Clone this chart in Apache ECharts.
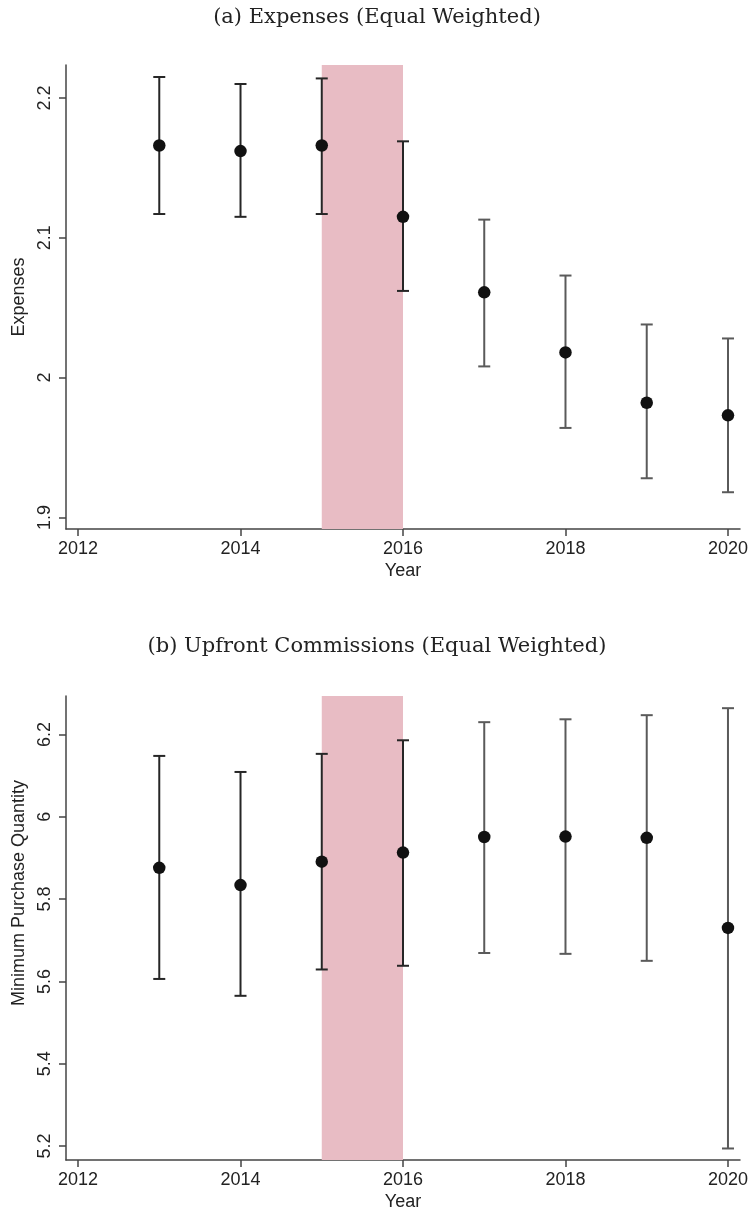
<!DOCTYPE html>
<html>
<head>
<meta charset="utf-8">
<script src="https://cdn.jsdelivr.net/npm/echarts@6/dist/echarts.min.js"></script>
<style>
html,body{margin:0;padding:0;background:#fff;}
#c{width:754px;height:1213px;}
</style>
</head>
<body>
<div id="c"></div>
<script>
// ---- data ----
const years = [2013, 2014, 2015, 2016, 2017, 2018, 2019, 2020];

const expPoint = [2.166, 2.162, 2.166, 2.115, 2.061, 2.018, 1.982, 1.973];
const expUpper = [2.215, 2.210, 2.214, 2.169, 2.113, 2.073, 2.038, 2.028];
const expLower = [2.117, 2.115, 2.117, 2.062, 2.008, 1.964, 1.928, 1.918];

const mpqPoint = [5.876, 5.834, 5.891, 5.913, 5.951, 5.952, 5.949, 5.730];
const mpqUpper = [6.148, 6.109, 6.153, 6.186, 6.230, 6.237, 6.247, 6.264];
const mpqLower = [5.606, 5.565, 5.629, 5.638, 5.669, 5.667, 5.650, 5.194];

const xTicks = [2012, 2014, 2016, 2018, 2020];
const expTicks = [1.9, 2.0, 2.1, 2.2];
const mpqTicks = [5.2, 5.4, 5.6, 5.8, 6.0, 6.2];
const shadeRange = [2015, 2016];

const titles = ['(a) Expenses (Equal Weighted)', '(b) Upfront Commissions (Equal Weighted)'];
const yNames = ['Expenses', 'Minimum Purchase Quantity'];
const xName = 'Year';

// ---- chart ----
const chart = echarts.init(document.getElementById('c'), null, {renderer: 'canvas'});

const sansFont = 'Liberation Sans';
const axisColor = '#444';
const labelColor = '#222';

function xAxisDef(gridIndex) {
  return {
    type: 'value', gridIndex: gridIndex,
    min: 2011.852, max: 2020.148,
    name: xName, nameLocation: 'middle', nameGap: 33,
    nameTextStyle: {fontFamily: sansFont, fontSize: 18, color: labelColor},
    axisLine: {show: true, lineStyle: {color: axisColor, width: 1.5}},
    axisTick: {show: true, length: 7, lineStyle: {color: axisColor, width: 1.5}, customValues: xTicks},
    axisLabel: {margin: 11, fontFamily: sansFont, fontSize: 18, color: labelColor,
      customValues: xTicks, formatter: v => String(v)},
    splitLine: {show: false}
  };
}
function yAxisDef(gridIndex, min, max, ticks, name, namePad) {
  return {
    type: 'value', gridIndex: gridIndex,
    min: min, max: max,
    name: name, nameLocation: 'middle', nameGap: 38, nameRotate: 90,
    nameTextStyle: {fontFamily: sansFont, fontSize: 18, color: labelColor, padding: namePad},
    axisLine: {show: true, lineStyle: {color: axisColor, width: 1.5}},
    axisTick: {show: true, length: 7, lineStyle: {color: axisColor, width: 1.5}, customValues: ticks},
    axisLabel: {margin: 12, rotate: 90, fontFamily: sansFont, fontSize: 18, color: labelColor,
      customValues: ticks, formatter: v => String(+Number(v).toFixed(1))},
    splitLine: {show: false}
  };
}

function errRender(params, api) {
  const x = api.value(0), lo = api.value(1), hi = api.value(2);
  const pLo = api.coord([x, lo]);
  const pHi = api.coord([x, hi]);
  const half = 6;
  const style = {stroke: x < 2017 ? '#262626' : '#5a5a5a', lineWidth: 2};
  return {
    type: 'group',
    children: [
      {type: 'line', shape: {x1: pLo[0], y1: pLo[1], x2: pHi[0], y2: pHi[1]}, style: style},
      {type: 'line', shape: {x1: pLo[0] - half, y1: pLo[1], x2: pLo[0] + half, y2: pLo[1]}, style: style},
      {type: 'line', shape: {x1: pHi[0] - half, y1: pHi[1], x2: pHi[0] + half, y2: pHi[1]}, style: style}
    ]
  };
}

function panelSeries(idx, point, lower, upper) {
  return [
    {
      type: 'custom', xAxisIndex: idx, yAxisIndex: idx,
      renderItem: errRender, z: 3, silent: true,
      encode: {x: 0, y: [1, 2]},
      data: years.map((y, i) => [y, lower[i], upper[i]]),
      markArea: {
        silent: true,
        itemStyle: {color: '#e8bcc4'},
        data: [[{xAxis: shadeRange[0]}, {xAxis: shadeRange[1]}]]
      }
    },
    {
      type: 'scatter', xAxisIndex: idx, yAxisIndex: idx, z: 5, silent: true,
      symbol: 'circle', symbolSize: 12.5,
      itemStyle: {color: '#111', opacity: 1},
      data: years.map((y, i) => [y, point[i]])
    }
  ];
}

chart.setOption({
  backgroundColor: '#fff',
  animation: false,
  title: [
    {text: titles[0], left: 'center', top: 7, padding: 0,
     textStyle: {fontFamily: 'DejaVu Serif', fontSize: 21, fontWeight: 'normal', color: '#222'}},
    {text: titles[1], left: 'center', top: 636, padding: 0,
     textStyle: {fontFamily: 'DejaVu Serif', fontSize: 21, fontWeight: 'normal', color: '#222'}}
  ],
  grid: [
    {left: 66, right: 14, top: 65, height: 464},
    {left: 66, right: 14, top: 696, height: 464}
  ],
  xAxis: [xAxisDef(0), xAxisDef(1)],
  yAxis: [
    yAxisDef(0, 1.8917, 2.2236, expTicks, yNames[0], 0),
    yAxisDef(1, 5.166, 6.2936, mpqTicks, yNames[1], [0, 0, 0, 70])
  ],
  series: [].concat(panelSeries(0, expPoint, expLower, expUpper), panelSeries(1, mpqPoint, mpqLower, mpqUpper))
});
</script>
</body>
</html>
